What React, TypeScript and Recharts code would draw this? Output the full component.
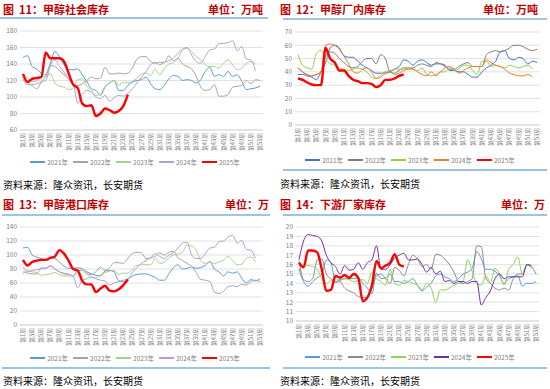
import { LineChart, Line, XAxis, YAxis, CartesianGrid, Legend } from 'recharts';

const WEEKS = Array.from({ length: 53 }, (_, i) => `第${i + 1}周`);
const YEARS = ['2021年', '2022年', '2023年', '2024年', '2025年'];

// 图11 甲醇社会库存
const social2021 = [148, 150, 137, 134, 129, 127, 141, 155, 149, 139, 133, 133, 134, 127, 119, 110, 108, 102, 112, 117, 120, 108, 108, 114, 118, 120, 121, 124, 116, 110, 109, 114, 122, 126, 125, 120, 121, 120, 117, 121, 131, 136, 125, 127, 125, 131, 125, 127, 119, 109, 110, 111, 113];
const social2022 = [127, 118, 114, 110, 118, 125, 138, 137, 132, 127, 122, 116, 114, 116, 120, 124, 122, 123, 136, 128, 128, 129, 128, 129, 135, 146, 149, 149, 143, 141, 142, 142, 150, 144, 147, 140, 137, 134, 125, 112, 108, 109, 115, 101, 101, 103, 112, 113, 114, 120, 116, 121, 120];
const social2023 = [126, 123, 119, 119, 125, 125, 128, 117, 113, 112, 109, 111, 121, 122, 113, 108, 102, 104, 113, 117, 120, 114, 118, 117, 119, 123, 128, 129, 126, 134, 127, 134, 140, 142, 147, 157, 159, 155, 149, 145, 139, 137, 137, 135, 141, 145, 139, 133, 135, 141, 143, 140];
const social2024 = [122, 115, 115, 116, 118, 120, 138, 145, 137, 130, 122, 117, 93, 103, 108, 106, 100, 98, 102, 95, 99, 102, 101, 104, 110, 117, 124, 131, 139, 142, 139, 142, 144, 147, 153, 158, 160, 151, 143, 141, 149, 157, 158, 165, 165, 166, 168, 156, 161, 146, 145, 132];
const social2025 = [128, 118, 122, 123, 124, 154, 147, 147, 147, 143, 129, 115, 111, 92, 89, 90, 77, 80, 86, 84, 81, 83, 89, 103];

// 图12 甲醇厂内库存
const plant2021 = [38, 38, 37, 36, 34, 40, 47, 58, 60, 58, 52, 51, 51, 48, 45, 43, 41, 39, 39, 39, 40, 42, 44, 49, 48, 45, 48, 49, 47, 45, 46, 46, 45, 41, 41, 40, 40, 38, 36, 36, 40, 43, 45, 48, 55, 56, 50, 49, 51, 50, 46, 48, 47];
const plant2022 = [43, 40, 38, 37, 38, 40, 52, 55, 54, 50, 47, 44, 43, 44, 48, 50, 50, 46, 53, 50, 40, 39, 41, 43, 43, 43, 45, 46, 45, 44, 47, 46, 44, 42, 42, 44, 46, 47, 44, 44, 44, 53, 55, 56, 55, 56, 58, 60, 60, 59, 57, 56, 57];
const plant2023 = [53, 45, 43, 42, 54, 56, 50, 46, 45, 43, 42, 41, 42, 43, 42, 40, 36, 35, 38, 40, 41, 42, 42, 42, 43, 42, 41, 43, 38, 37, 38, 40, 40, 43, 41, 42, 45, 45, 41, 38, 48, 48, 44, 45, 44, 43, 45, 44, 43, 44, 45, 42];
const plant2024 = [43, 40, 37, 37, 38, 40, 60, 61, 60, 57, 52, 46, 40, 39, 42, 43, 40, 35, 36, 39, 40, 38, 39, 41, 42, 42, 40, 38, 37, 40, 37, 40, 43, 44, 42, 39, 41, 43, 44, 44, 44, 49, 47, 45, 44, 42, 39, 38, 37, 37, 38, 36];
const plant2025 = [35, 34, 32, 30.5, 30, 30, 58, 50, 47, 41, 41, 37, 34, 33, 31.5, 31.5, 31, 28.5, 30, 34, 34, 35, 37, 38];

// 图13 甲醇港口库存
const port2021 = [110, 111, 100, 97, 95, 93, 96, 95, 90, 84, 81, 81, 82, 80, 76, 73, 71, 70, 77, 78, 76, 63, 62, 65, 70, 72, 73, 73, 71, 68, 64, 64, 73, 82, 86, 80, 81, 83, 81, 82, 85, 91, 80, 76, 70, 76, 74, 76, 67, 60, 65, 63, 66];
const port2022 = [76, 74, 73, 73, 82, 81, 84, 80, 76, 74, 73, 70, 78, 78, 73, 72, 76, 83, 78, 82, 89, 89, 88, 95, 102, 104, 103, 95, 96, 98, 103, 100, 104, 105, 96, 92, 88, 84, 75, 65, 64, 62, 47, 45, 48, 55, 56, 55, 58, 57, 62, 64, 62];
const port2023 = [73, 78, 76, 75, 71, 72, 73, 75, 72, 70, 70, 70, 75, 78, 74, 68, 67, 72, 75, 77, 78, 72, 74, 74, 80, 85, 86, 86, 86, 95, 88, 90, 96, 100, 101, 104, 114, 113, 107, 92, 88, 89, 88, 90, 93, 98, 92, 86, 87, 95, 97, 90];
const port2024 = [83, 76, 78, 79, 80, 81, 85, 80, 76, 73, 72, 70, 53, 64, 66, 69, 66, 64, 63, 57, 60, 62, 64, 66, 75, 82, 88, 92, 96, 102, 98, 95, 100, 103, 110, 117, 118, 100, 95, 95, 102, 110, 111, 119, 120, 126, 128, 117, 121, 108, 107, 95];
const port2025 = [93, 85, 90, 92, 93, 93, 96, 98, 107, 102, 92, 80, 78, 63, 58, 58, 47, 52, 56, 49, 48, 51, 57, 65];

// 图14 下游厂家库存
const down2021 = [15.5, 14.2, 13.7, 14.2, 14.6, 15.0, 16.5, 16.2, 14.2, 14.4, 14.5, 14.5, 14.5, 14.6, 14.0, 13.5, 12.9, 15.1, 14.5, 14.6, 15.0, 14.2, 14.2, 14.0, 14.2, 14.5, 13.8, 13.2, 13.6, 14.0, 14.8, 15.0, 14.7, 14.5, 14.2, 14.5, 15.0, 15.2, 15.6, 17.4, 16.6, 15.5, 15.5, 15.3, 14.8, 14.0, 14.5, 14.7, 14.8, 13.7, 14.0, 14.0, 14.2];
const down2022 = [16.4, 14.4, 14.2, 14.5, 16.5, 16.6, 15.0, 14.5, 14.1, 14.2, 13.5, 13.2, 13.0, 12.6, 12.5, 12.5, 13.5, 14.8, 15.0, 14.5, 14.0, 15.7, 15.4, 14.8, 16.0, 17.0, 16.6, 15.8, 16.0, 15.5, 17.1, 17.0, 16.6, 16.0, 15.2, 14.2, 14.0, 14.2, 14.5, 18.0, 17.9, 14.5, 14.0, 13.5, 13.3, 13.5, 13.3, 14.5, 15.0, 15.0, 16.0, 15.8, 15.0];
const down2023 = [15.4, 16.0, 15.9, 15.8, 15.5, 14.5, 14.0, 14.3, 14.5, 14.3, 14.5, 14.4, 14.2, 14.3, 14.4, 14.0, 15.2, 14.5, 14.2, 13.8, 15.5, 14.0, 13.8, 14.3, 14.2, 14.0, 13.8, 13.3, 14.0, 13.5, 12.0, 13.3, 13.3, 13.5, 13.8, 14.0, 14.2, 16.5, 15.3, 14.0, 13.8, 14.8, 14.1, 15.6, 15.0, 13.8, 15.5, 16.0, 16.8, 15.0, 16.0, 15.6];
const down2024 = [16.5, 18.5, 19.2, 19.1, 19.0, 18.5, 17.0, 16.2, 15.8, 15.0, 15.9, 15.4, 15.5, 16.2, 15.5, 16.2, 16.5, 18.0, 15.5, 15.5, 16.0, 16.7, 17.0, 17.2, 16.5, 16.5, 16.6, 16.0, 15.2, 15.7, 15.0, 15.3, 14.2, 14.3, 14.0, 14.2, 14.2, 14.0, 14.2, 14.2, 11.7, 12.5, 13.2, 14.5, 15.0, 14.5, 14.7, 14.7, 14.7, 14.7, 16.0, 15.9];
const down2025 = [16.2, 15.7, 17.5, 17.5, 17.3, 15.5, 13.2, 13.3, 14.8, 14.6, 14.9, 14.6, 15.0, 14.6, 12.1, 12.5, 13.8, 16.4, 15.6, 15.9, 16.2, 17.1, 16.0, 15.8];

const SOCIAL_TICKS = [60, 80, 100, 120, 140, 160, 180];
const PLANT_TICKS = [0, 10, 20, 30, 40, 50, 60, 70];
const PORT_TICKS = [0, 20, 40, 60, 80, 100, 120, 140];
const DOWN_TICKS = [10, 11, 12, 13, 14, 15, 16, 17, 18, 19, 20];

const SOURCE = '资料来源：隆众资讯，长安期货';
const TITLE_RED = '#C00000';
const RULE_BLUE = '#9DC3E6';
const FONT = '"Noto Sans CJK SC", "Noto Sans", sans-serif';

function buildRows(series: number[][]) {
  return WEEKS.map((week, i) => {
    const row: Record<string, number | string | null> = { week };
    series.forEach((s, j) => {
      row[YEARS[j]] = s[i] ?? null;
    });
    return row;
  });
}

function WeekTick({ x, y, payload }: any) {
  return (
    <text
      x={x}
      y={y}
      transform={`rotate(-90 ${x} ${y})`}
      textAnchor="end"
      dy="0.35em"
      fontSize={5.8}
      fill="#7F7F7F"
    >
      {payload.value}
    </text>
  );
}

function renderLegend(props: any) {
  return (
    <div style={{ display: 'flex', justifyContent: 'center', fontSize: 6.5, color: '#7F7F7F', lineHeight: '8px' }}>
      {props.payload.map((e: any) => (
        <span key={e.value} style={{ display: 'flex', alignItems: 'center', marginRight: 5 }}>
          <span
            style={{
              display: 'inline-block',
              width: 15,
              height: e.value === '2025年' ? 2.5 : 1.2,
              background: e.color,
              marginRight: 2,
            }}
          />
          {e.value}
        </span>
      ))}
    </div>
  );
}

interface PanelProps {
  left: number;
  top: number;
  title: string;
  unit: string;
  rows: Record<string, number | string | null>[];
  colors: string[];
  ticks: number[];
  plotLeft: number;
  plotRight: number;
  plotTop: number;
  plotBottom: number;
  legendY: number;
  titleX: number;
  unitRight: number;
  ruleTop: number;
  ruleLeft: number;
  ruleRight: number;
  bottomRule?: number;
  sourceY: number;
}

function Panel(p: PanelProps) {
  const W = 275;
  const H = 195;
  return (
    <div style={{ position: 'absolute', left: p.left, top: p.top, width: W, height: H, fontFamily: FONT }}>
      <div style={{ position: 'absolute', left: p.titleX, top: 1, fontSize: 11, fontWeight: 700, color: TITLE_RED, whiteSpace: 'pre' }}>
        {p.title}
      </div>
      <div style={{ position: 'absolute', right: W - p.unitRight, top: 1, fontSize: 11, fontWeight: 700, color: TITLE_RED, whiteSpace: 'nowrap' }}>
        {p.unit}
      </div>
      <div style={{ position: 'absolute', left: p.ruleLeft, width: p.ruleRight - p.ruleLeft, top: p.ruleTop, height: 1.5, background: RULE_BLUE }} />
      {p.bottomRule !== undefined && (
        <div style={{ position: 'absolute', left: p.ruleLeft, width: p.ruleRight - p.ruleLeft, top: p.bottomRule, height: 1.5, background: RULE_BLUE }} />
      )}
      <div style={{ position: 'absolute', left: 0, top: 0 }}>
        <LineChart
          width={W}
          height={H}
          data={p.rows}
          margin={{ top: p.plotTop, right: W - p.plotRight, bottom: H - p.plotBottom - 24, left: p.plotLeft - 18 }}
        >
          <CartesianGrid vertical={false} stroke="#D9D9D9" strokeWidth={0.8} />
          <XAxis
            dataKey="week"
            interval={1}
            height={24}
            tick={<WeekTick />}
            tickSize={0}
            tickMargin={3}
            axisLine={{ stroke: '#D9D9D9' }}
            padding={{ left: 3, right: 3 }}
          />
          <YAxis
            width={18}
            domain={[p.ticks[0], p.ticks[p.ticks.length - 1]]}
            ticks={p.ticks}
            interval={0}
            tickSize={0}
            tickMargin={3}
            axisLine={false}
            tickLine={false}
            tick={{ fontSize: 6.5, fill: '#7F7F7F' }}
          />
          <Legend
            verticalAlign="middle"
            align="center"
            wrapperStyle={{ top: p.legendY - 4, left: 0, width: W }}
            content={renderLegend}
          />
          {YEARS.map((y, i) => (
            <Line
              key={y}
              type="monotone"
              dataKey={y}
              stroke={p.colors[i]}
              strokeWidth={y === '2025年' ? 2.4 : 1}
              dot={false}
              isAnimationActive={false}
            />
          ))}
        </LineChart>
      </div>
      <div style={{ position: 'absolute', left: p.titleX, top: p.sourceY - 7, fontSize: 10, color: '#000', whiteSpace: 'nowrap' }}>
        {SOURCE}
      </div>
    </div>
  );
}

export default function App() {
  const socialRows = buildRows([social2021, social2022, social2023, social2024, social2025]);
  const plantRows = buildRows([plant2021, plant2022, plant2023, plant2024, plant2025]);
  const portRows = buildRows([port2021, port2022, port2023, port2024, port2025]);
  const downRows = buildRows([down2021, down2022, down2023, down2024, down2025]);

  return (
    <div style={{ position: 'absolute', left: 0, top: 0, width: 550, height: 389, background: '#fff', overflow: 'hidden' }}>
      <style>{'body{margin:0}'}</style>
      <Panel
        left={0}
        top={0}
        title="图  11：甲醇社会库存"
        unit="单位：万吨"
        rows={socialRows}
        colors={['#5B9BD5', '#A5A5A5', '#A9D18E', '#B4A0D4', '#FF0000']}
        ticks={SOCIAL_TICKS}
        plotLeft={20}
        plotRight={263}
        plotTop={31}
        plotBottom={130}
        legendY={162}
        titleX={3}
        unitRight={263}
        ruleTop={17}
        ruleLeft={0}
        ruleRight={268}
        sourceY={184}
      />
      <Panel
        left={275}
        top={0}
        title="图  12：甲醇厂内库存"
        unit="单位：万吨"
        rows={plantRows}
        colors={['#4472C4', '#7F7F7F', '#92D050', '#ED7D31', '#FF0000']}
        ticks={PLANT_TICKS}
        plotLeft={20}
        plotRight={265}
        plotTop={32}
        plotBottom={125}
        legendY={160}
        titleX={5}
        unitRight={263}
        ruleTop={18}
        ruleLeft={8}
        ruleRight={272}
        bottomRule={169}
        sourceY={183}
      />
      <Panel
        left={0}
        top={195}
        title="图  13：甲醇港口库存"
        unit="单位：万"
        rows={portRows}
        colors={['#5B9BD5', '#A5A5A5', '#A9D18E', '#B4A0D4', '#FF0000']}
        ticks={PORT_TICKS}
        plotLeft={20}
        plotRight={263}
        plotTop={32}
        plotBottom={130}
        legendY={163}
        titleX={3}
        unitRight={269}
        ruleTop={19}
        ruleLeft={2}
        ruleRight={270}
        bottomRule={172}
        sourceY={185}
      />
      <Panel
        left={275}
        top={195}
        title="图  14：下游厂家库存"
        unit="单位：万"
        rows={downRows}
        colors={['#5B9BD5', '#8C8C8C', '#92D050', '#7030A0', '#FF0000']}
        ticks={DOWN_TICKS}
        plotLeft={21}
        plotRight={264}
        plotTop={32}
        plotBottom={126}
        legendY={162}
        titleX={5}
        unitRight={270}
        ruleTop={19}
        ruleLeft={8}
        ruleRight={272}
        bottomRule={172}
        sourceY={185}
      />
    </div>
  );
}
